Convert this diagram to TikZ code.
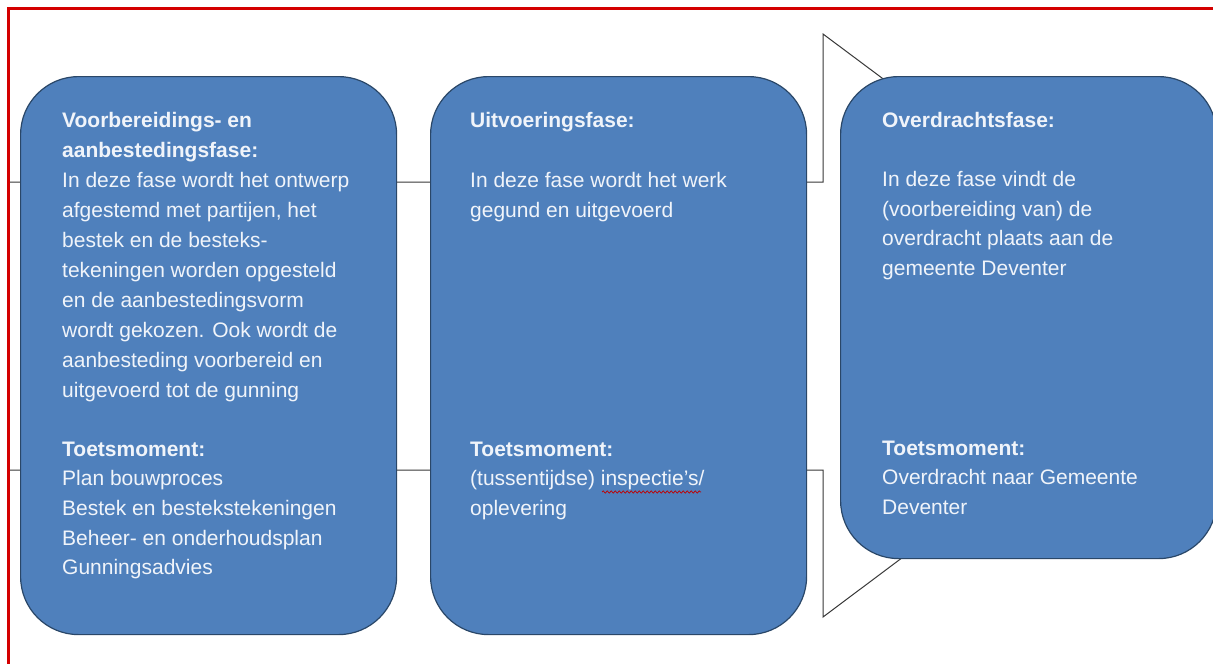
\documentclass[tikz,border=0pt]{standalone}
\usepackage{fontspec}
\setmainfont{Liberation Sans}
\usetikzlibrary{decorations.pathmorphing}
\definecolor{boxblue}{HTML}{4F80BC}
\definecolor{boxedge}{HTML}{2A4768}
\definecolor{txtcol}{HTML}{F0F4FA}
\definecolor{framered}{HTML}{D40000}
\definecolor{arrowline}{HTML}{383838}
\newcommand{\phasetext}[2][30]{\parbox[t]{330pt}{\raggedright\fontsize{21}{#1}\selectfont #2}}
\begin{document}
\begin{tikzpicture}[x=1pt,y=-1pt,
  phase/.style={draw=boxedge, line width=1.2pt, fill=boxblue, rounded corners=58pt, anchor=north west, inner sep=0pt},
  ptext/.style={anchor=base west, inner sep=0pt, text=txtcol},
  outline/.style={draw=arrowline, line width=1pt, fill=white, line join=miter},
  squiggle/.style={draw=red!75!black, line width=0.7pt, decorate, decoration={snake, amplitude=1.1pt, segment length=4pt}},
]
\useasboundingbox (0,0) rectangle (1213,664);
\fill[white] (0,0) rectangle (1213,664);

% big arrow outline behind the phases
\draw[outline] (8,182) -- (823,182) -- (823,34) -- (1213,325) -- (823,617) -- (823,470) -- (8,470);

% phase boxes
\node[phase, minimum width=376pt, minimum height=558pt] (b1) at (20,76) {};
\node[phase, minimum width=376pt, minimum height=558pt] (b2) at (430,76) {};
\node[phase, minimum width=376pt, minimum height=482pt] (b3) at (840,76) {};

% red frame
\draw[framered, line width=3pt] (8,664) -- (8,8) -- (1213,8);

% texts box 1
\node[ptext] (t1) at (62,127) {\phasetext{\textbf{Voorbereidings- en}\\
\textbf{aanbestedingsfase:}\\
In deze fase wordt het ontwerp\\
afgestemd met partijen, het\\
bestek en de besteks-\\
tekeningen worden opgesteld\\
en de aanbestedingsvorm\\
wordt gekozen. Ook wordt de\\
aanbesteding voorbereid en\\
uitgevoerd tot de gunning}};
\node[ptext] (m1) at (62,456) {\phasetext[29.7]{\textbf{Toetsmoment:}\\
Plan bouwproces\\
Bestek en bestekstekeningen\\
Beheer- en onderhoudsplan\\
Gunningsadvies}};

% texts box 2
\node[ptext] (t2) at (470,127) {\phasetext{\textbf{Uitvoeringsfase:}\\
\mbox{}\\
In deze fase wordt het werk\\
gegund en uitgevoerd}};
\node[ptext] (m2) at (470,456) {\phasetext[29.7]{\textbf{Toetsmoment:}\\
(tussentijdse) inspectie’s/\\
oplevering}};
\draw[squiggle] (602,492) -- (701,492);

% texts box 3
\node[ptext] (t3) at (882,127) {\phasetext[29.7]{\textbf{Overdrachtsfase:}\\
\mbox{}\\
In deze fase vindt de\\
(voorbereiding van) de\\
overdracht plaats aan de\\
gemeente Deventer}};
\node[ptext] (m3) at (882,455) {\phasetext[29.5]{\textbf{Toetsmoment:}\\
Overdracht naar Gemeente\\
Deventer}};
\end{tikzpicture}
\end{document}
